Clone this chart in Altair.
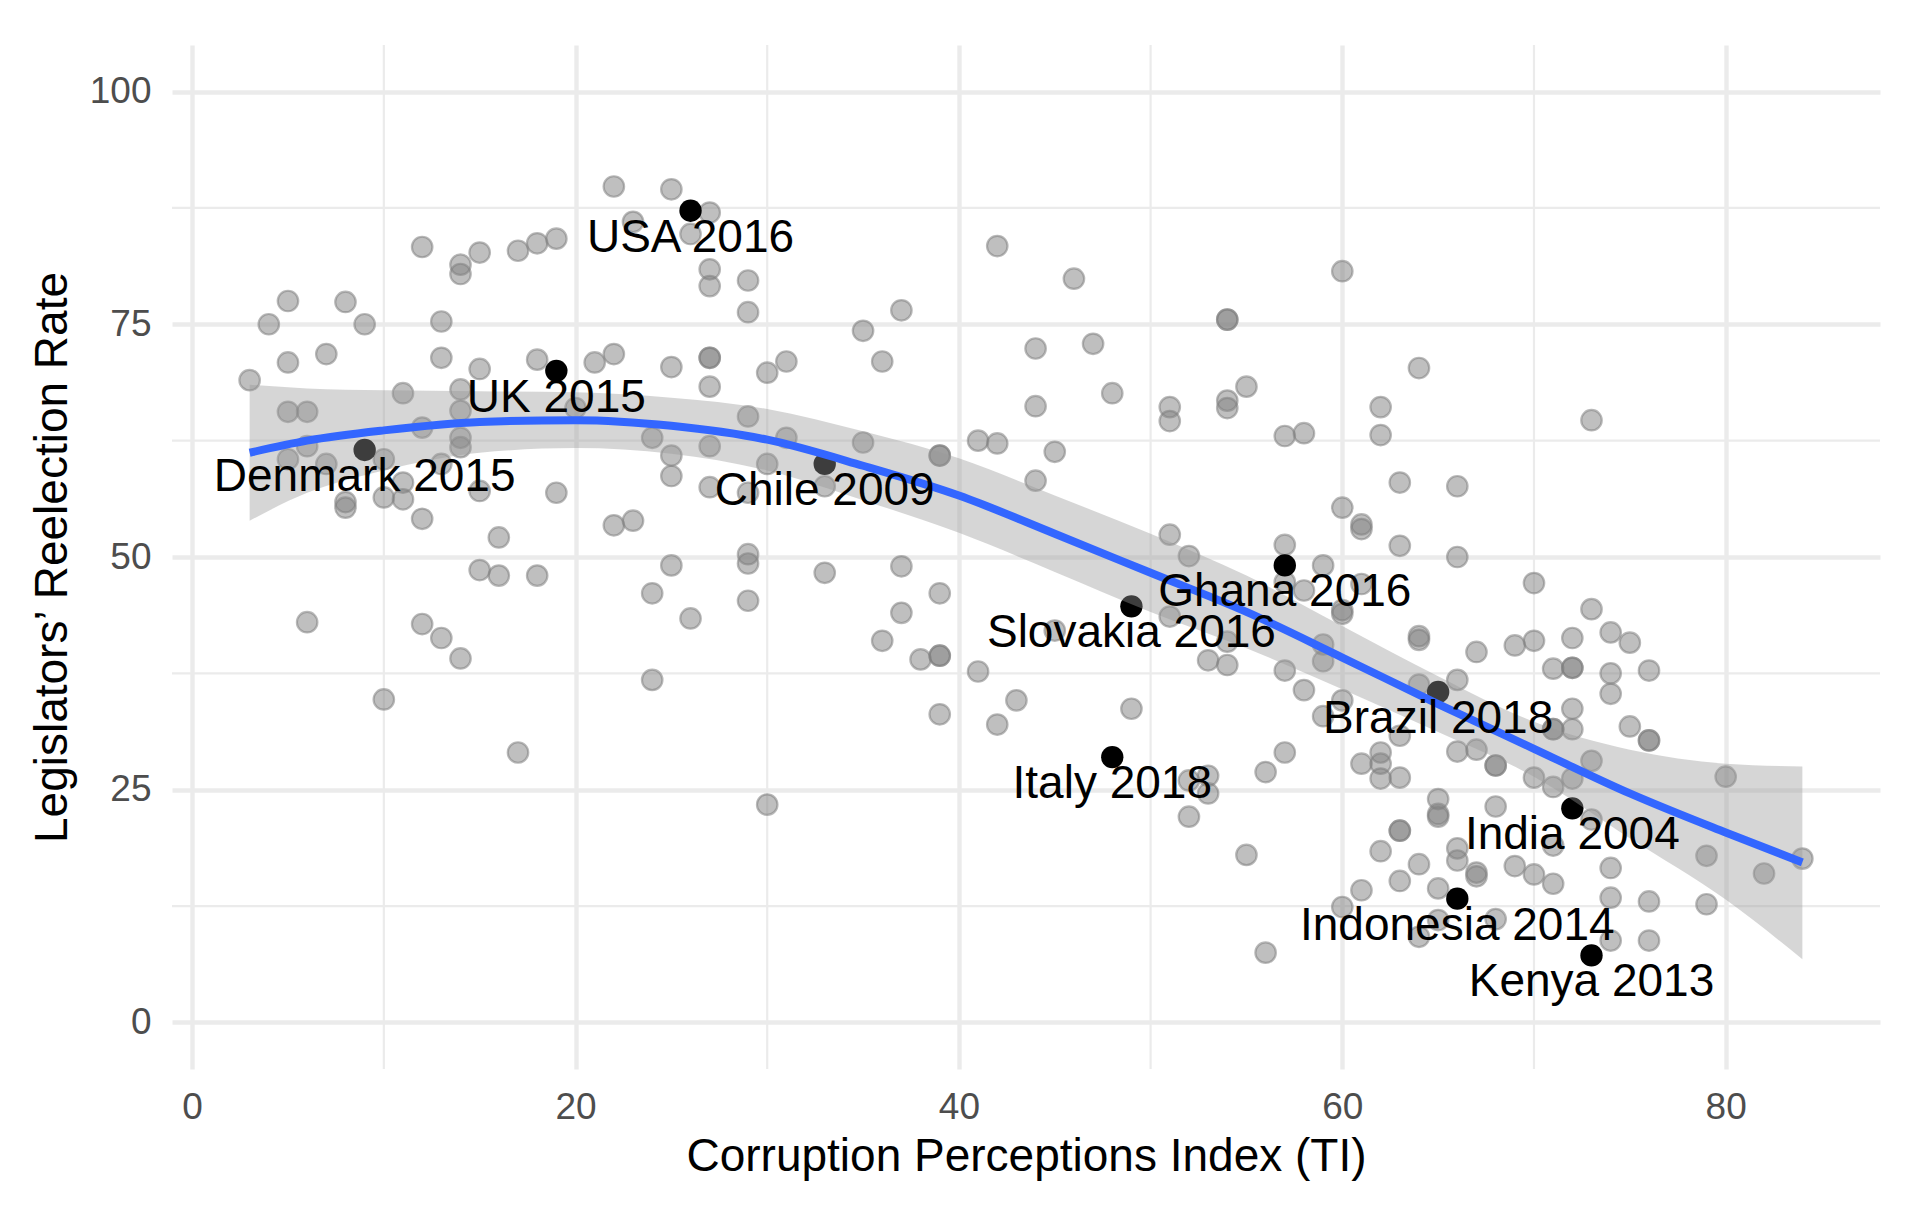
import altair as alt
import pandas as pd

# ---------------- data ----------------
# grey points (Corruption Perceptions Index, reelection rate)
gx = [
    3,
    4,
    5, 5, 5, 5,
    6, 6, 6,
    7, 7,
    8, 8, 8,
    9,
    10, 10, 10,
    11, 11, 11,
    12, 12, 12, 12,
    13, 13, 13, 13,
    14, 14, 14, 14, 14, 14, 14,
    15, 15, 15, 15,
    16, 16,
    17, 17,
    18, 18, 18,
    19, 19,
    20,
    21,
    22, 22, 22,
    23, 23,
    24, 24, 24,
    25, 25, 25, 25, 25,
    26, 26,
    27, 27, 27, 27, 27, 27, 27, 27,
    29, 29, 29, 29, 29, 29, 29,
    30, 30, 30,
    31, 31,
    33, 33,
    35, 35,
    36, 36,
    37, 37, 37,
    38,
    39, 39, 39, 39, 39, 39,
    41, 41,
    42, 42, 42,
    43,
    44, 44, 44,
    45, 45,
    46,
    47,
    48,
    49,
    51, 51, 51, 51,
    52, 52, 52,
    53, 53, 53,
    54, 54, 54, 54, 54, 54,
    55, 55,
    56, 56,
    57, 57, 57, 57, 57,
    58, 58, 58,
    59, 59, 59, 59,
    60, 60, 60, 60, 60, 60,
    61, 61, 61, 61, 61,
    62, 62, 62, 62, 62, 62,
    63, 63, 63, 63, 63, 63, 63,
    64, 64, 64, 64, 64, 64,
    65, 65, 65, 65, 65,
    66, 66, 66, 66, 66, 66,
    67, 67, 67, 67,
    68, 68, 68, 68,
    69, 69,
    70, 70, 70, 70,
    71, 71, 71, 71, 71, 71,
    72, 72, 72, 72, 72, 72,
    73, 73, 73, 73,
    74, 74, 74, 74, 74, 74,
    75, 75,
    76, 76, 76, 76, 76,
    79, 79,
    80,
    82,
    84,
]
gy = [
    69.0,
    75.0,
    77.5, 70.9, 65.6, 60.5,
    65.6, 61.9, 43.0,
    71.8, 60.0,
    77.4, 55.9, 55.3,
    75.0,
    60.5, 56.4, 34.7,
    67.6, 58.0, 56.2,
    83.3, 63.9, 54.1, 42.8,
    75.3, 71.4, 60.0, 41.3,
    81.4, 80.4, 68.0, 65.7, 62.8, 61.8, 39.1,
    82.7, 70.2, 57.1, 48.6,
    52.1, 48.0,
    82.9, 29.0,
    83.7, 71.2, 48.0,
    84.2, 56.9,
    66.0,
    70.9,
    89.8, 71.8, 53.4,
    86.0, 53.9,
    62.8, 46.1, 36.8,
    89.5, 70.4, 60.9, 58.7, 49.1,
    84.7, 43.4,
    87.0, 80.9, 79.1, 71.4, 71.4, 68.3, 61.9, 57.5,
    79.7, 76.3, 65.1, 56.9, 50.3, 49.3, 45.3,
    69.8, 60.0, 23.4,
    71.0, 62.8,
    57.6, 48.3,
    74.3, 62.3,
    71.0, 41.0,
    76.5, 49.0, 44.0,
    39.0,
    60.9, 60.9, 46.1, 39.4, 39.4, 33.1,
    62.5, 37.7,
    83.4, 62.2, 32.0,
    34.6,
    72.4, 66.2, 58.2,
    61.3, 42.1,
    79.9,
    72.9,
    67.6,
    33.7,
    66.1, 64.6, 52.4, 43.6,
    50.1, 26.0, 22.1,
    38.9, 26.5, 24.6,
    75.5, 75.5, 66.8, 66.0, 40.9, 38.4,
    68.3, 18.0,
    26.9, 7.5,
    63.0, 51.3, 47.3, 37.8, 29.0,
    63.3, 46.4, 35.7,
    49.1, 40.6, 38.8, 32.9,
    80.7, 55.3, 44.3, 43.9, 34.6, 12.4,
    53.5, 53.0, 47.1, 27.8, 14.2,
    66.1, 63.1, 29.0, 27.8, 26.2, 18.4,
    58.0, 51.2, 30.8, 26.3, 20.6, 20.6, 15.2,
    70.3, 41.5, 41.1, 36.3, 17.0, 9.2,
    24.0, 22.4, 22.1, 14.4, 11.0,
    57.6, 50.0, 36.8, 29.1, 18.7, 17.4,
    39.8, 29.3, 16.1, 15.7,
    27.6, 27.6, 23.2, 11.1,
    40.5, 16.8,
    47.2, 41.0, 26.3, 15.9,
    38.0, 31.5, 31.5, 25.3, 19.0, 14.9,
    41.3, 38.1, 38.1, 33.7, 31.5, 26.2,
    64.7, 44.4, 28.1, 21.8,
    41.9, 37.5, 35.3, 16.6, 13.4, 8.8,
    40.8, 31.8,
    37.8, 30.3, 30.3, 13.0, 8.8,
    17.9, 12.7,
    26.4,
    16.0,
    17.6,
]
assert len(gx) == len(gy)

# highlighted elections
hl_x = [26, 19, 9, 33, 57, 49, 65, 48, 72, 66, 73]
hl_y = [87.2, 70.0, 61.5, 60.0, 49.1, 44.7, 35.5, 28.5, 23.0, 13.3, 7.2]
hl_label = ["USA 2016", "UK 2015", "Denmark 2015", "Chile 2009", "Ghana 2016",
            "Slovakia 2016", "Brazil 2018", "Italy 2018", "India 2004",
            "Indonesia 2014", "Kenya 2013"]

# smoother and its confidence band
fit_x = [3, 6, 10, 15, 20, 25, 30, 35, 40, 45, 50, 55, 60, 65, 70, 75, 80, 84]
fit_y = [61.2, 62.5, 63.6, 64.5, 64.7, 64.1, 62.6, 59.8, 56.6, 52.5, 48.3, 44.1,
         39.2, 34.2, 29.4, 24.6, 20.4, 17.2]
fit_lo = [53.9, 56.9, 59.3, 61.2, 61.7, 61.1, 59.3, 56.1, 52.6, 48.4, 44.1, 40.2,
          35.8, 31.2, 26.4, 19.8, 13.2, 6.8]
fit_hi = [68.5, 68.1, 67.9, 67.8, 67.7, 67.1, 65.9, 63.5, 60.6, 56.6, 52.5, 48.0,
          42.6, 37.2, 32.3, 29.3, 27.8, 27.5]

# axis ticks and minor grid
x_ticks = [0, 20, 40, 60, 80]
y_ticks = [0, 25, 50, 75, 100]
x_minor = [10, 30, 50, 70]
y_minor = [12.5, 37.5, 62.5, 87.5]

X_TITLE = "Corruption Perceptions Index (TI)"
Y_TITLE = "Legislators\u2019 Reelection Rate"

# ---------------- chart ----------------
FONT = "Liberation Sans"
W, H = 1708, 1024

pts = pd.DataFrame({"x": gx, "y": gy})
hl = pd.DataFrame({"x": hl_x, "y": hl_y, "label": hl_label})
fit = pd.DataFrame({"x": fit_x, "y": fit_y, "lo": fit_lo, "hi": fit_hi})
xm = pd.DataFrame({"x": x_minor})
ym = pd.DataFrame({"y": y_minor})

xs = alt.Scale(domain=[-1.05, 88.05], nice=False, zero=False)
ys = alt.Scale(domain=[-5, 105], nice=False, zero=False)

x_axis = alt.Axis(
    values=x_ticks, grid=True, gridColor="#EBEBEB", gridWidth=4.4,
    domain=False, ticks=False, tickSize=0, labelFlush=False,
    labelFont=FONT, labelFontSize=37, labelColor="#4D4D4D", labelPadding=20,
    titleFont=FONT, titleFontSize=46, titleFontWeight="normal", titleColor="black",
    titleX=W / 2, titleY=101, titleBaseline="alphabetic", titleAlign="center",
)
y_axis = alt.Axis(
    values=y_ticks, grid=True, gridColor="#EBEBEB", gridWidth=4.4,
    domain=False, ticks=False, tickSize=0, labelFlush=False,
    labelFont=FONT, labelFontSize=37, labelColor="#4D4D4D", labelPadding=21,
    titleFont=FONT, titleFontSize=46, titleFontWeight="normal", titleColor="black",
    titleX=-106, titleY=H / 2, titleBaseline="alphabetic", titleAlign="center",
    titleAngle=270,
)


def X(field="x"):
    return alt.X(f"{field}:Q", scale=xs, axis=x_axis, title=X_TITLE)


def Y(field="y"):
    return alt.Y(f"{field}:Q", scale=ys, axis=y_axis, title=Y_TITLE)


grid_x = alt.Chart(xm).mark_rule(color="#EBEBEB", strokeWidth=2.2).encode(x=X())
grid_y = alt.Chart(ym).mark_rule(color="#EBEBEB", strokeWidth=2.2).encode(y=Y())

grey = alt.Chart(pts).mark_circle(
    size=420, color="#7F7F7F", fillOpacity=0.5, stroke="#7F7F7F",
    strokeWidth=2.2, strokeOpacity=0.55,
).encode(x=X(), y=Y())

black = alt.Chart(hl).mark_circle(size=500, color="black", opacity=1).encode(
    x=X(), y=Y()
)

band = alt.Chart(fit).mark_area(color="#999999", opacity=0.4, interpolate="monotone").encode(
    x=X(), y=Y("lo"), y2="hi:Q",
)

line = alt.Chart(fit).mark_line(color="#3366FF", strokeWidth=8, interpolate="monotone").encode(
    x=X(), y=Y(),
)

labels = alt.Chart(hl).mark_text(
    font=FONT, fontSize=46, color="black", align="center",
    baseline="alphabetic", dy=41,
).encode(x=X(), y=Y(), text="label:N")

chart = alt.layer(grid_x, grid_y, grey, black, band, line, labels).properties(
    width=W, height=H,
    autosize=alt.AutoSizeParams(type="none"),
    padding={"left": 164, "top": 37, "right": 30, "bottom": 120},
    background="white",
).configure_view(strokeWidth=0)

chart.save("out.html", embed_options={"renderer": "svg", "actions": False})
